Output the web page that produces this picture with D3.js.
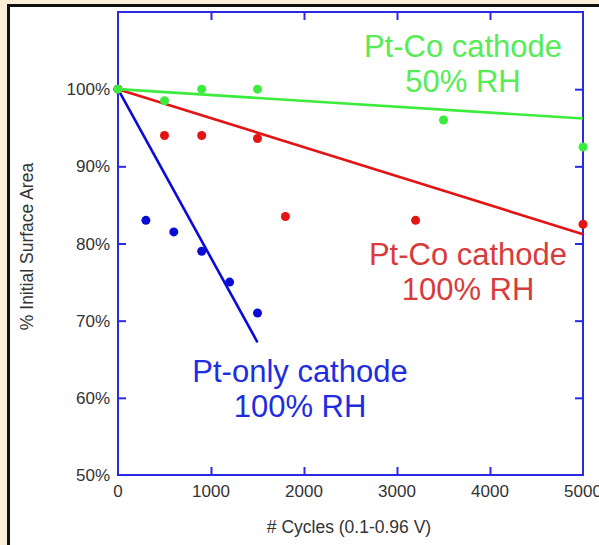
<!DOCTYPE html>
<html>
<head>
<meta charset="utf-8">
<script src="https://cdn.jsdelivr.net/npm/d3@7"></script>
<style>
  html, body { margin: 0; padding: 0; background: #fbefd9; }
  svg { display: block; }
  text { font-family: "Liberation Sans", Arial, sans-serif; }
</style>
</head>
<body>
<svg id="chart" width="599" height="545"></svg>
<script>
// ---- data ----
const xTicks = [0, 1000, 2000, 3000, 4000, 5000];
const yTicks = [50, 60, 70, 80, 90, 100];

const ptCo50Cycles = [0, 500, 900, 1500, 3500, 5000];
const ptCo50Values = [100, 98.5, 100, 100, 96, 92.5];
const ptCo50Fit = [[0, 100], [5000, 96.2]];

const ptCo100Cycles = [0, 500, 900, 1500, 1800, 3200, 5000];
const ptCo100Values = [100, 94, 94, 93.6, 83.5, 83, 82.5];
const ptCo100Fit = [[0, 100], [5000, 81.2]];

const ptOnlyCycles = [0, 300, 600, 900, 1200, 1500];
const ptOnlyValues = [100, 83, 81.5, 79, 75, 71];
const ptOnlyFit = [[0, 100], [1500, 67.2]];

const xLabel = "# Cycles (0.1-0.96 V)";
const yLabel = "% Initial Surface Area";

// ---- layout ----
const svg = d3.select("#chart");
const W = 599, H = 545;
const mLeft = 118, mRight = 583, mTop = 12, mBottom = 475;

// frame
svg.append("rect").attr("x", 0).attr("y", 0).attr("width", W).attr("height", H).attr("fill", "#fbefd9");
svg.append("rect").attr("x", 7).attr("y", 4).attr("width", W).attr("height", H).attr("fill", "#111");
svg.append("rect").attr("x", 10).attr("y", 7).attr("width", W).attr("height", H).attr("fill", "#ffffff");

const x = d3.scaleLinear().domain([0, 5000]).range([mLeft, mRight]);
const y = d3.scaleLinear().domain([50, 110]).range([mBottom, mTop]);

const axisColor = "#2a2ae6";
const tickLen = 8;

function styleAxis(g) {
  g.select(".domain").remove();
  g.selectAll(".tick line").attr("stroke", axisColor).attr("stroke-width", 2);
}
const innerX = xTicks.filter(d => d > 0 && d < 5000);
const innerY = yTicks.filter(d => d > 50);

svg.append("g").attr("transform", `translate(0,${mBottom})`)
  .call(d3.axisBottom(x).tickValues(innerX).tickSizeInner(-tickLen).tickSizeOuter(0).tickFormat(""))
  .call(styleAxis);
svg.append("g").attr("transform", `translate(0,${mTop})`)
  .call(d3.axisTop(x).tickValues(innerX).tickSizeInner(-tickLen).tickSizeOuter(0).tickFormat(""))
  .call(styleAxis);
svg.append("g").attr("transform", `translate(${mLeft},0)`)
  .call(d3.axisLeft(y).tickValues(innerY).tickSizeInner(-tickLen).tickSizeOuter(0).tickFormat(""))
  .call(styleAxis);
svg.append("g").attr("transform", `translate(${mRight},0)`)
  .call(d3.axisRight(y).tickValues(innerY).tickSizeInner(-tickLen).tickSizeOuter(0).tickFormat(""))
  .call(styleAxis);

// box
svg.append("rect").attr("x", mLeft).attr("y", mTop).attr("width", mRight - mLeft).attr("height", mBottom - mTop)
  .attr("fill", "none").attr("stroke", axisColor).attr("stroke-width", 2);

// tick labels
svg.append("g").selectAll("text").data(xTicks).join("text")
  .attr("x", d => x(d)).attr("y", mBottom + 22)
  .attr("text-anchor", "middle").attr("font-size", 17).attr("fill", "#333")
  .text(d => d);
svg.append("g").selectAll("text").data(yTicks).join("text")
  .attr("x", mLeft - 8).attr("y", d => y(d) + 6)
  .attr("text-anchor", "end").attr("font-size", 17).attr("fill", "#333")
  .text(d => d + "%");

// axis titles
svg.append("text").attr("x", 349).attr("y", 533).attr("text-anchor", "middle")
  .attr("font-size", 17.5).attr("fill", "#333").text(xLabel);
svg.append("text").attr("transform", `translate(33,${(mTop + mBottom) / 2 + 3}) rotate(-90)`)
  .attr("text-anchor", "middle").attr("font-size", 17.5).attr("fill", "#333").text(yLabel);

// series
const line = d3.line().x(d => x(d[0])).y(d => y(d[1]));
const series = [
  { cycles: ptOnlyCycles, values: ptOnlyValues, fit: ptOnlyFit, color: "#0b0bd6" },
  { cycles: ptCo100Cycles, values: ptCo100Values, fit: ptCo100Fit, color: "#e41414" },
  { cycles: ptCo50Cycles, values: ptCo50Values, fit: ptCo50Fit, color: "#3cec3c" }
];
series.forEach(s => {
  svg.append("path").attr("d", line(s.fit)).attr("fill", "none")
    .attr("stroke", s.color).attr("stroke-width", 2.6);
  svg.append("g").selectAll("circle").data(s.cycles.map((c, i) => [c, s.values[i]])).join("circle")
    .attr("cx", d => x(d[0])).attr("cy", d => y(d[1])).attr("r", 4.5).attr("fill", s.color);
});

// annotations
function annot(lines, cx, baseline, color) {
  const t = svg.append("text").attr("text-anchor", "middle").attr("font-size", 31).attr("fill", color);
  lines.forEach((l, i) => t.append("tspan").attr("x", cx).attr("y", baseline + i * 35).text(l));
}
annot(["Pt-Co cathode", "50% RH"], 463, 57, "#55ec55");
annot(["Pt-Co cathode", "100% RH"], 468, 265, "#d83b3b");
annot(["Pt-only cathode", "100% RH"], 300, 382, "#1e2de0");
</script>
</body>
</html>
